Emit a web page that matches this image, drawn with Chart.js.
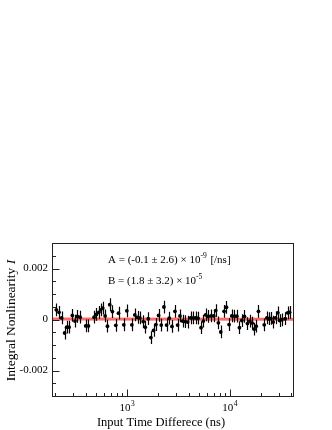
<!DOCTYPE html>
<html>
<head>
<meta charset="utf-8">
<script src="https://cdn.jsdelivr.net/npm/chart.js@4.4.0/dist/chart.umd.min.js"></script>
<style>
  html, body { margin: 0; padding: 0; background: #fff; }
</style>
</head>
<body>
<canvas id="c" width="332" height="430"></canvas>
<script>
// input time difference (ns)
const timeNs = [206, 219, 232, 248, 260, 274, 295, 313, 330, 351,
  398, 423, 480, 506, 533, 557, 583, 615, 648, 682,
  724, 781, 830, 935, 1000, 1119, 1197, 1271, 1339, 1443,
  1510, 1615, 1714, 1820, 1919, 2037, 2163, 2296, 2438, 2588,
  2748, 2939, 3120, 3289, 3491, 3707, 3908, 4178, 4436, 4677,
  4931, 5272, 5559, 5851, 6212, 6607, 7015, 7328, 7780, 8204,
  8831, 9311, 9886, 10500, 11140, 11750, 12470, 13150, 13960, 14930,
  15740, 16600, 17340, 18150, 19100, 21730, 23070, 24100, 25230, 26550,
  27990, 29510, 30620, 32280, 34780, 36650, 38360];

// integral nonlinearity I
const inl = [0.00038, 0.00028, 0.00006, -0.00053, -0.0003, -0.0003, 0.00016, -0.00006, 0.00012, 0.00009,
  -0.00025, -0.00025, 0.00009, 0.0002, 0.00028, 0.00038, 0.00045, 0.00014, -0.00026, 0.00058,
  0.00031, -0.00023, 0.00025, -0.00021, 0.00034, -0.00021, 0.00018, 0.00008, 0.00006, -0.00008,
  -0.0003, 0.00003, -0.00071, -0.00043, -0.0002, 0.00016, -0.00022, 0.00049, -0.00022, 0.00005,
  -0.00027, 0.00032, -0.00022, 0.00014, -0.00006, -0.00008, -0.0001, 0.00006, 0.00006, 0.00006,
  0.00005, -0.00032, -0.00006, 0.00018, 0.00012, 0.00014, 0.00014, 0.00035, -0.00013, -0.00049,
  0.00032, 0.00048, -0.0002, 0.00014, 0.00013, 0.00013, -0.00032, -0.00004, 0.00012, -0.00016,
  -0.00006, -0.00014, -0.00038, -0.00026, 0.00032, -0.00021, 0.00006, 0.00003, 0.00004, -0.0001,
  0.00006, 0.00026, -0.00004, -0.00001, 0.00003, 0.00026, 0.00028];

const errBar = 0.00025;

// fit line I = A*t + B
const fitX = [187, 41400];
const fitY = [0.000018, 0.000014];

const xRange = [187, 41400];
const yRange = [-0.003, 0.003];
const xMajor = [1000, 10000];
const xMajorExp = ['3', '4'];
const xMinor = [200, 300, 400, 500, 600, 700, 800, 900,
  2000, 3000, 4000, 5000, 6000, 7000, 8000, 9000,
  20000, 30000, 40000];
const yMajor = [-0.002, 0, 0.002];
const yMajorLabels = ['-0.002', '0', '0.002'];
const yMinor = [-0.0025, -0.0015, -0.001, -0.0005, 0.0005, 0.001, 0.0015, 0.0025];

const SERIF = '"Liberation Serif", "DejaVu Serif", serif';

const rootFrame = {
  id: 'rootFrame',
  afterDatasetsDraw(chart) {
    const ctx = chart.ctx;
    const xs = chart.scales.x, ys = chart.scales.y;
    // error bars
    ctx.save();
    ctx.strokeStyle = '#000';
    ctx.lineWidth = 1.2;
    ctx.beginPath();
    timeNs.forEach((t, i) => {
      const px = Math.round(xs.getPixelForValue(t)) + 0.5;
      ctx.moveTo(px, ys.getPixelForValue(inl[i] - errBar));
      ctx.lineTo(px, ys.getPixelForValue(inl[i] + errBar));
    });
    ctx.stroke();
    ctx.restore();
  },
  afterDraw(chart) {
    const ctx = chart.ctx;
    const a = chart.chartArea;
    const xs = chart.scales.x, ys = chart.scales.y;
    ctx.save();
    ctx.strokeStyle = '#222';
    ctx.lineWidth = 1;
    ctx.strokeRect(Math.round(a.left) + 0.5, Math.round(a.top) + 0.5,
      Math.round(a.right - a.left), Math.round(a.bottom - a.top));

    ctx.beginPath();
    const L = Math.round(a.left) + 0.5, B = Math.round(a.bottom) + 0.5;
    yMajor.forEach(v => { const p = Math.round(ys.getPixelForValue(v)) + 0.5; ctx.moveTo(L, p); ctx.lineTo(L + 7, p); });
    yMinor.forEach(v => { const p = Math.round(ys.getPixelForValue(v)) + 0.5; ctx.moveTo(L, p); ctx.lineTo(L + 3.5, p); });
    xMajor.forEach(v => { const p = Math.round(xs.getPixelForValue(v)) + 0.5; ctx.moveTo(p, B); ctx.lineTo(p, B - 7); });
    xMinor.forEach(v => { const p = Math.round(xs.getPixelForValue(v)) + 0.5; ctx.moveTo(p, B); ctx.lineTo(p, B - 3.5); });
    ctx.stroke();

    ctx.fillStyle = '#000';
    ctx.font = '11px ' + SERIF;
    ctx.textAlign = 'right';
    ctx.textBaseline = 'middle';
    yMajor.forEach((v, i) => ctx.fillText(yMajorLabels[i], a.left - 4, ys.getPixelForValue(v)));

    xMajor.forEach((v, i) => {
      const p = xs.getPixelForValue(v);
      ctx.font = '11px ' + SERIF;
      const w10 = ctx.measureText('10').width;
      ctx.font = '7.5px ' + SERIF;
      const we = ctx.measureText(xMajorExp[i]).width;
      const x0 = p - (w10 + we) / 2;
      ctx.textAlign = 'left';
      ctx.textBaseline = 'alphabetic';
      ctx.font = '11px ' + SERIF;
      ctx.fillText('10', x0, a.bottom + 15);
      ctx.font = '7.5px ' + SERIF;
      ctx.fillText(xMajorExp[i], x0 + w10 + 0.5, a.bottom + 10);
    });

    // axis titles
    ctx.font = '12.5px ' + SERIF;
    ctx.textAlign = 'center';
    ctx.textBaseline = 'alphabetic';
    ctx.fillText('Input Time Differece (ns)', 161, a.bottom + 30);

    ctx.save();
    ctx.translate(15, (a.top + a.bottom) / 2 + 1);
    ctx.rotate(-Math.PI / 2);
    const t1 = 'Integral Nonlinearity ';
    ctx.font = '13.5px ' + SERIF;
    const w1 = ctx.measureText(t1).width;
    ctx.font = 'italic 13.5px ' + SERIF;
    const w2 = ctx.measureText('I').width;
    ctx.textAlign = 'left';
    ctx.font = '13.5px ' + SERIF;
    ctx.fillText(t1, -(w1 + w2) / 2, 0);
    ctx.font = 'italic 13.5px ' + SERIF;
    ctx.fillText('I', -(w1 + w2) / 2 + w1, 0);
    ctx.restore();

    // fit parameters
    const drawSup = (parts, x, y) => {
      parts.forEach(([txt, sup]) => {
        ctx.font = (sup ? '7.5px ' : '11px ') + SERIF;
        ctx.fillText(txt, x, sup ? y - 5 : y);
        x += ctx.measureText(txt).width + (sup ? 1 : 0);
      });
    };
    ctx.textAlign = 'left';
    ctx.textBaseline = 'alphabetic';
    drawSup([['A = (-0.1 \u00b1 2.6) \u00d7 10', false], ['-9', true], [' [/ns]', false]], 108, 263);
    drawSup([['B = (1.8 \u00b1 3.2) \u00d7 10', false], ['-5', true]], 108, 284);
    ctx.restore();
  }
};

new Chart(document.getElementById('c'), {
  type: 'scatter',
  data: {
    datasets: [
      {
        label: 'fit',
        type: 'line',
        data: fitX.map((x, i) => ({x, y: fitY[i]})),
        borderColor: 'rgba(255, 70, 70, 0.8)',
        borderWidth: 3,
        pointRadius: 0,
        order: 2
      },
      {
        label: 'INL',
        data: timeNs.map((t, i) => ({x: t, y: inl[i]})),
        backgroundColor: '#000',
        borderColor: '#000',
        pointStyle: 'circle',
        pointRadius: 1.9,
        borderWidth: 0,
        order: 1
      }
    ]
  },
  options: {
    responsive: false,
    devicePixelRatio: 1,
    animation: false,
    layout: {padding: {left: 52, right: 39, top: 243, bottom: 34}},
    plugins: {legend: {display: false}, tooltip: {enabled: false}},
    scales: {
      x: {type: 'logarithmic', min: xRange[0], max: xRange[1], display: false},
      y: {type: 'linear', min: yRange[0], max: yRange[1], display: false}
    }
  },
  plugins: [rootFrame]
});
</script>
</body>
</html>
